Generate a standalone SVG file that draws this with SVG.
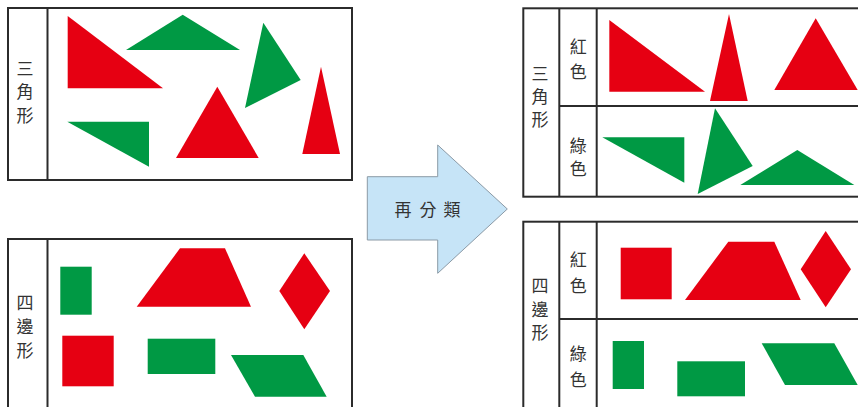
<svg xmlns="http://www.w3.org/2000/svg" width="858" height="407" viewBox="0 0 858 407">
<style>
.box{fill:#fff;stroke:#2b2b2b;stroke-width:2}
.ln{stroke:#2b2b2b;stroke-width:2;fill:none}
.r{fill:#e60012}
.g{fill:#009944}
.lbl{font-family:"Noto Sans CJK TC","Noto Sans CJK SC",sans-serif;font-size:17px;font-weight:400;fill:#333;text-anchor:middle}
.arrow{fill:#c6e4f7;stroke:#8b9aa6;stroke-width:1}
</style>
<rect width="858" height="407" fill="#fff"/>

<g id="left-triangles">
<rect class="box" x="8" y="8" width="344" height="172"/>
<line class="ln" x1="47.5" y1="8" x2="47.5" y2="180"/>
<text class="lbl"><tspan x="25" y="74.5">三</tspan><tspan x="25" y="98">角</tspan><tspan x="25" y="121.5">形</tspan></text>
<polygon class="r" points="67.7,16 67.7,88.3 163,88.3"/>
<polygon class="g" points="126,50 182.7,14.7 240,50"/>
<polygon class="g" points="263.3,22.7 300.7,80 245,108"/>
<polygon class="r" points="321,66.7 302.3,154 340,154"/>
<polygon class="r" points="217.3,86.7 176,158 258.7,158"/>
<polygon class="g" points="67.3,121.7 149,121.7 149,166.7"/>
</g>

<g id="left-quadrilaterals">
<rect class="box" x="8" y="239" width="344" height="180"/>
<line class="ln" x1="47.5" y1="239" x2="47.5" y2="419"/>
<text class="lbl"><tspan x="25" y="309">四</tspan><tspan x="25" y="333">邊</tspan><tspan x="25" y="356.5">形</tspan></text>
<rect class="g" x="60.3" y="266.7" width="31.4" height="48"/>
<polygon class="r" points="180,248.3 225,248.3 251,306.7 136.7,306.7"/>
<polygon class="r" points="304.3,253.3 330,291 304.3,329.3 279.3,291"/>
<rect class="r" x="62.3" y="335.7" width="51.4" height="50.6"/>
<rect class="g" x="147.7" y="338.7" width="67.6" height="35.3"/>
<polygon class="g" points="231,355 303.3,355 326.7,396.7 255,396.7"/>
</g>

<g id="connectors">
<g id="arrow">
<polygon class="arrow" points="367.3,176.7 437.7,176.7 437.7,145 507.3,209 437.7,273.3 437.7,240 367.3,240"/>
<text class="lbl"><tspan x="403" y="215.5">再</tspan><tspan x="428" y="215.5">分</tspan><tspan x="452" y="215.5">類</tspan></text>
</g>
</g>

<g id="right-triangles">
<rect class="box" x="523.3" y="8.3" width="345" height="188.4"/>
<line class="ln" x1="559.3" y1="8.3" x2="559.3" y2="196.7"/>
<line class="ln" x1="596.7" y1="8.3" x2="596.7" y2="196.7"/>
<line class="ln" x1="559.3" y1="106" x2="860" y2="106"/>
<text class="lbl"><tspan x="540" y="79.5">三</tspan><tspan x="540" y="102.5">角</tspan><tspan x="540" y="125.5">形</tspan></text>
<text class="lbl"><tspan x="578.3" y="53">紅</tspan><tspan x="578.3" y="77.5">色</tspan></text>
<text class="lbl"><tspan x="578.3" y="151.5">綠</tspan><tspan x="578.3" y="175">色</tspan></text>
<polygon class="r" points="609.3,20 609.3,91.7 705,91.7"/>
<polygon class="r" points="729,14 710,101 747.7,101"/>
<polygon class="r" points="815.7,18.3 774.3,90 857.7,90"/>
<polygon class="g" points="602.3,137.3 684.3,137.3 684.3,182.7"/>
<polygon class="g" points="715,108.3 752.7,166 697.7,194"/>
<polygon class="g" points="797.3,150 854.3,185 740.3,185"/>
</g>

<g id="right-quadrilaterals">
<rect class="box" x="523.3" y="221.7" width="345" height="200"/>
<line class="ln" x1="559.3" y1="221.7" x2="559.3" y2="421.7"/>
<line class="ln" x1="596.7" y1="221.7" x2="596.7" y2="421.7"/>
<line class="ln" x1="559.3" y1="319" x2="860" y2="319"/>
<text class="lbl"><tspan x="540" y="292">四</tspan><tspan x="540" y="315.5">邊</tspan><tspan x="540" y="339">形</tspan></text>
<text class="lbl"><tspan x="578.3" y="266">紅</tspan><tspan x="578.3" y="291.5">色</tspan></text>
<text class="lbl"><tspan x="578.3" y="360">綠</tspan><tspan x="578.3" y="385.5">色</tspan></text>
<rect class="r" x="620.7" y="247.7" width="51" height="51.6"/>
<polygon class="r" points="728.3,241.7 774.3,241.7 800.7,300 685,300"/>
<polygon class="r" points="825.7,231 851,269.3 825.7,307.3 800.7,269.3"/>
<rect class="g" x="612.7" y="341" width="31.3" height="48"/>
<rect class="g" x="677.3" y="361.3" width="67.7" height="35"/>
<polygon class="g" points="761.7,343.3 834.3,343.3 857.7,385 785,385"/>
</g>
</svg>
